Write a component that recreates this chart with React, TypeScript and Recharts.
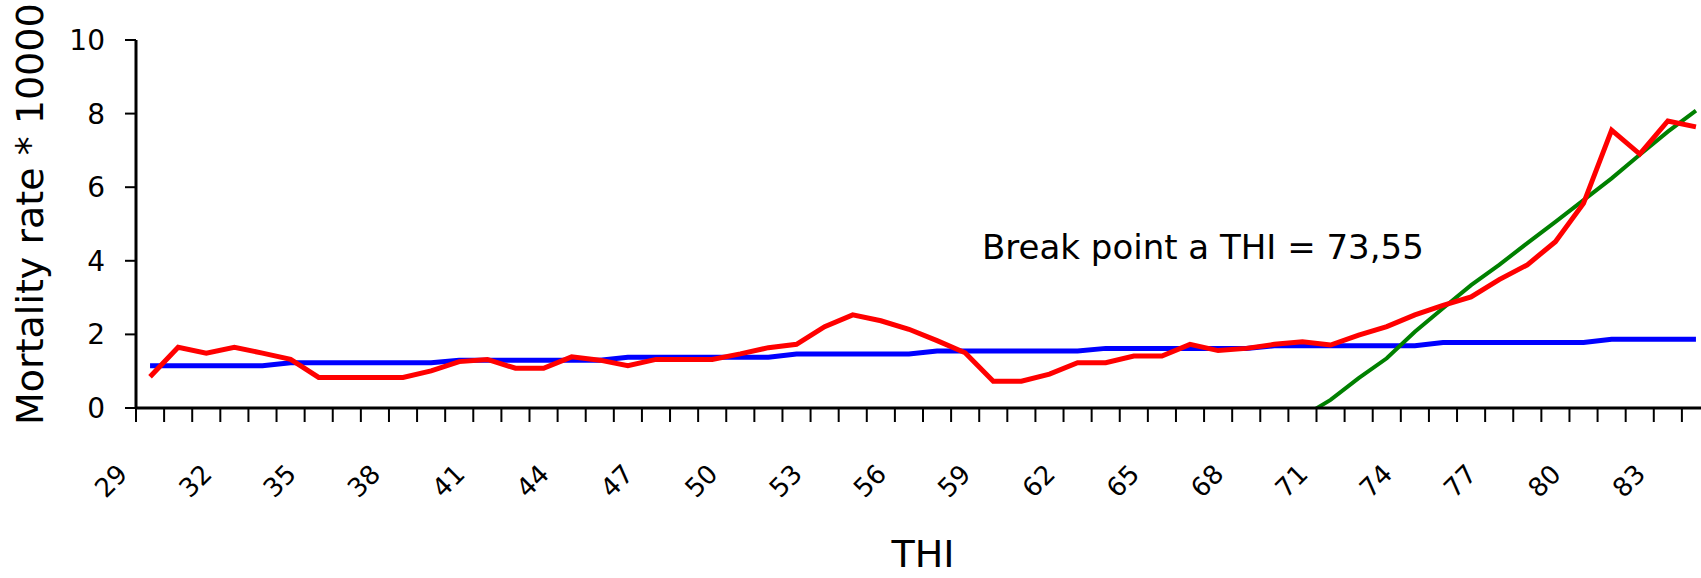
import React from 'react';
import { LineChart, Line, XAxis, YAxis, ReferenceDot } from 'recharts';

const categories = [
  29, 30, 31, 32, 33, 34, 35, 36, 37, 38, 39, 40, 41, 42, 43, 44, 45, 46, 47, 48,
  49, 50, 51, 52, 53, 54, 55, 56, 57, 58, 59, 60, 61, 62, 63, 64, 65, 66, 67, 68,
  69, 70, 71, 72, 73, 74, 75, 76, 77, 78, 79, 80, 81, 82, 83, 84,
];

const observed = [
  0.85, 1.65, 1.49, 1.65, 1.49, 1.32, 0.83, 0.83, 0.83, 0.83, 1.01, 1.26, 1.32, 1.08, 1.08, 1.39, 1.3, 1.15, 1.32, 1.32,
  1.32, 1.47, 1.64, 1.73, 2.21, 2.53, 2.37, 2.14, 1.83, 1.5, 0.73, 0.73, 0.92, 1.23, 1.23, 1.41, 1.41, 1.73, 1.56, 1.62,
  1.73, 1.8, 1.71, 1.98, 2.21, 2.53, 2.79, 3.02, 3.49, 3.89, 4.52, 5.56, 7.55, 6.9, 7.8, 7.64,
];

const baseline = [
  1.15, 1.15, 1.15, 1.15, 1.15, 1.23, 1.23, 1.23, 1.23, 1.23, 1.23, 1.3, 1.3, 1.3, 1.3, 1.3, 1.3, 1.38, 1.38, 1.38,
  1.38, 1.38, 1.38, 1.47, 1.47, 1.47, 1.47, 1.47, 1.55, 1.55, 1.55, 1.55, 1.55, 1.55, 1.62, 1.62, 1.62, 1.62, 1.62, 1.62,
  1.69, 1.69, 1.69, 1.69, 1.69, 1.69, 1.78, 1.78, 1.78, 1.78, 1.78, 1.78, 1.87, 1.87, 1.87, 1.87,
];

const heatTrend: (number | null)[] = [
  null, null, null, null, null, null, null, null, null, null, null, null, null, null, null, null, null, null, null, null,
  null, null, null, null, null, null, null, null, null, null, null, null, null, null, null, null, null, null, null, null,
  null, -0.24, 0.22, 0.81, 1.35, 2.07, 2.71, 3.34, 3.89, 4.48, 5.06, 5.65, 6.24, 6.88, 7.51, 8.08,
];

const yTicks = [0, 2, 4, 6, 8, 10];
const labelStep = 3;
const annotationText = 'Break point a THI = 73,55';
const annotationPos = { thi: 58.6, rate: 4.05 };

const data = categories.map((c, i) => ({
  thi: c,
  observed: observed[i],
  baseline: baseline[i],
  trend: heatTrend[i],
}));

const first = categories[0];
const last = categories[categories.length - 1];
const boundaryTicks = [...categories.map((c) => c - 0.5), last + 0.5];

const FONT = 'DejaVu Sans';

const XTick = (props: any) => {
  const { x, y, payload } = props;
  const cat = payload.value + 0.5;
  if ((cat - first) % labelStep !== 0 || cat > last) return null;
  const cx = x - 25;
  const cy = y + 59;
  return (
    <text
      x={cx}
      y={cy}
      textAnchor="middle"
      dominantBaseline="central"
      fontFamily={FONT}
      fontSize={26}
      fill="#000"
      transform={`rotate(-45 ${cx} ${cy})`}
    >
      {cat}
    </text>
  );
};

export default function App() {
  return (
    <div
      style={{
        position: 'absolute',
        left: 0,
        top: 0,
        width: 1701,
        height: 578,
        overflow: 'hidden',
        background: '#fff',
      }}
    >
      <LineChart
        width={1710}
        height={578}
        data={data}
        margin={{ top: 40, right: 0, bottom: 0, left: 0 }}
      >
        <XAxis
          dataKey="thi"
          type="number"
          domain={[first - 0.5, last + 0.5]}
          ticks={boundaryTicks}
          interval={0}
          height={170}
          tickSize={14}
          tickMargin={0}
          axisLine={{ stroke: '#000', strokeWidth: 3 }}
          tickLine={{ stroke: '#000', strokeWidth: 2 }}
          tick={<XTick />}
          allowDataOverflow
          label={{
            content: (p: any) => {
              const vb = p.viewBox;
              return (
                <text
                  x={vb.x + vb.width / 2}
                  y={vb.y + 159}
                  textAnchor="middle"
                  fontFamily={FONT}
                  fontSize={38}
                  fill="#000"
                >
                  THI
                </text>
              );
            },
          }}
        />
        <YAxis
          type="number"
          domain={[0, 10]}
          ticks={yTicks}
          interval={0}
          width={136}
          tickSize={11}
          tickMargin={20}
          allowDataOverflow
          axisLine={{ stroke: '#000', strokeWidth: 3 }}
          tickLine={{ stroke: '#000', strokeWidth: 2 }}
          tick={{ fontFamily: FONT, fontSize: 28, fill: '#000' }}
          label={{
            content: (p: any) => {
              const vb = p.viewBox;
              const tx = vb.x + 43;
              const ty = vb.y + vb.height + 17;
              return (
                <text
                  x={tx}
                  y={ty}
                  textAnchor="start"
                  fontFamily={FONT}
                  fontSize={38}
                  fill="#000"
                  transform={`rotate(-90 ${tx} ${ty})`}
                >
                  Mortality rate * 10000
                </text>
              );
            },
          }}
        />
        <Line
          dataKey="baseline"
          type="linear"
          stroke="#0000FF"
          strokeWidth={5}
          dot={false}
          isAnimationActive={false}
        />
        <Line
          dataKey="trend"
          type="linear"
          stroke="#008000"
          strokeWidth={4}
          dot={false}
          connectNulls={false}
          isAnimationActive={false}
        />
        <Line
          dataKey="observed"
          type="linear"
          stroke="#FF0000"
          strokeWidth={5}
          dot={false}
          isAnimationActive={false}
        />
        <ReferenceDot
          x={annotationPos.thi}
          y={annotationPos.rate}
          r={1}
          fill="none"
          stroke="none"
          label={{
            content: (p: any) => {
              const vb = p.viewBox;
              return (
                <text
                  x={vb.x + vb.width / 2}
                  y={vb.y + vb.height / 2}
                  textAnchor="start"
                  fontFamily={FONT}
                  fontSize={34}
                  fill="#000"
                >
                  {annotationText}
                </text>
              );
            },
          }}
        />
      </LineChart>
    </div>
  );
}
